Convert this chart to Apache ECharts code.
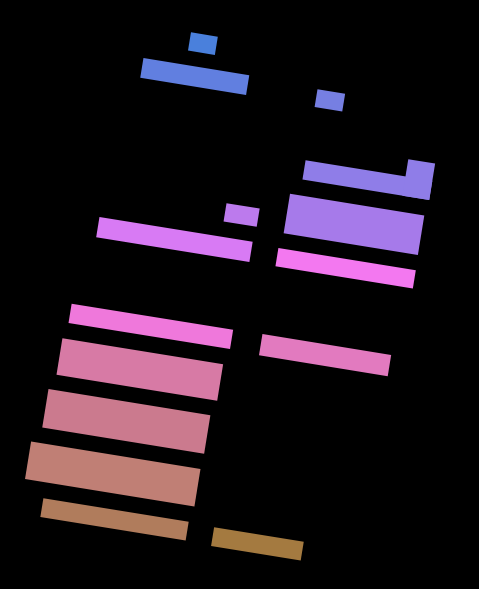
<!DOCTYPE html>
<html><head><meta charset="utf-8">
<script src="https://cdn.jsdelivr.net/npm/echarts@6/dist/echarts.min.js"></script>
<style>html,body{margin:0;padding:0;background:#000;}#c{width:479px;height:589px;}</style>
</head><body><div id="c"></div>
<script>
// Each block: horizontal extent (xStart..xEnd) and vertical extent (yTop..yBottom) in data units
const xStart  = [27.4, 16.7, 60.9, 60.8, 86.1, 58.3, 43.0, 12.2, 57.6,  8.8, 57.1,  7.9,  6.5,  4.3,  9.6, 52.9];
const xEnd    = [34.2, 43.5, 67.9, 92.9, 92.9, 92.3, 51.4, 51.0, 92.4, 49.7, 89.7, 48.6, 47.5, 47.2, 46.4, 75.6];
const yTop    = [ 4.7, 11.3, 11.9, 26.3, 22.8, 33.4, 37.3, 44.1, 44.5, 62.1, 62.0, 69.2, 79.7, 90.6,101.4,101.7];
const yBottom = [ 8.4, 15.3, 15.5, 30.2, 30.2, 41.4, 41.0, 48.2, 48.2, 66.0, 66.3, 76.6, 87.5, 98.2,105.2,105.5];
const colors  = ['#4a80dc','#617fe0','#767fe2','#8f7de8','#8f7de8','#a67aea','#bc7aed','#d87af4','#f378f0',
                 '#ef78db','#e27abf','#d77aa5','#cb7a8e','#c07f75','#b07c5c','#a47a40'];
const tiltDeg = 9.2;

const chart = echarts.init(document.getElementById('c'), null, {renderer: 'canvas'});
chart.setOption({
  backgroundColor: '#000',
  animation: false,
  grid: {left: 40, right: 39, top: 20, bottom: 19},
  xAxis: {type: 'value', min: 0, max: 100, show: false},
  yAxis: {type: 'value', min: 0, max: 110, inverse: true, show: false},
  series: [{
    type: 'custom',
    encode: {x: [0, 1], y: [2, 3]},
    data: xStart.map((s, i) => [s, xEnd[i], yTop[i], yBottom[i]]),
    renderItem: function (params, api) {
      const p0 = api.coord([api.value(0), api.value(2)]);
      const p1 = api.coord([api.value(1), api.value(3)]);
      const c = api.coord([50, 55]);
      return {
        type: 'rect',
        shape: {x: p0[0], y: p0[1], width: p1[0] - p0[0], height: p1[1] - p0[1]},
        rotation: -tiltDeg * Math.PI / 180,
        originX: c[0], originY: c[1],
        style: {fill: colors[params.dataIndex]}
      };
    }
  }]
});
</script></body></html>
